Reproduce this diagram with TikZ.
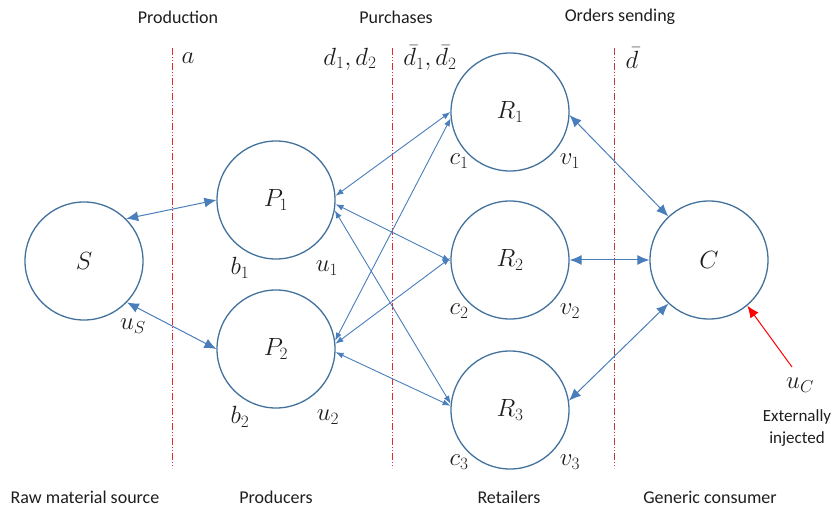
\documentclass[tikz,border=0pt]{standalone}
\usepackage{fontspec}
\setmainfont{Carlito}
\usetikzlibrary{arrows.meta}
\definecolor{circblue}{HTML}{41719C}
\definecolor{arrblue}{HTML}{4A7EBB}
\definecolor{dashred}{HTML}{E8262C}
\definecolor{dashdark}{HTML}{B8403A}
\definecolor{txt}{HTML}{1E1E1E}
\tikzset{
  x=1pt, y=-1pt,
  stage/.style={circle, draw=circblue, line width=1.3pt, minimum size=118pt, inner sep=0pt, font=\fontsize{25}{28}\selectfont, text=txt},
  lab/.style={font=\fontsize{18}{22}\selectfont, text=txt, inner sep=0pt},
  mlab/.style={font=\fontsize{25}{28}\selectfont, text=txt, inner sep=0pt},
  sep/.style={line width=0.9pt, dash pattern=on 7pt off 2pt on 1pt off 2pt on 1pt off 2pt},
  bigarr/.style={arrblue, line width=1pt, {Latex[length=12pt,width=10pt]}-{Latex[length=12pt,width=10pt]}},
  smallarr/.style={arrblue, line width=0.9pt, {Latex[length=8pt,width=6pt]}-{Latex[length=8pt,width=6pt]}},
}
\begin{document}
\begin{tikzpicture}
\useasboundingbox (0,0) rectangle (833,513);
% separators
\draw[sep, dashred] (172,48) coordinate (sa1) -- (172,468) coordinate (sa2);
\draw[sep, dashred] (392,48) coordinate (sb1) -- (392,468) coordinate (sb2);
\draw[sep, dashdark] (614,48) coordinate (sc1) -- (614,468) coordinate (sc2);
% stage circles
\node[stage] (S) at (84,261) {$S$};
\node[stage] (P1) at (276,200) {$P_1$};
\node[stage] (P2) at (276,349) {$P_2$};
\node[stage] (R1) at (510,112) {$R_1$};
\node[stage] (R2) at (510,260) {$R_2$};
\node[stage] (R3) at (510,410) {$R_3$};
\node[stage] (C) at (709,260) {$C$};
% heading labels
\node[lab] (hprod) at (178,17) {Production};
\node[lab] (hpur) at (396,17) {Purchases};
\node[lab] (hord) at (620,17) {Orders sending};
\node[mlab] (la) at (188,58) {$a$};
\node[mlab] (ld) at (350,59) {$d_1, d_2$};
\node[mlab] (ldb) at (430,58) {$\bar{d}_1, \bar{d}_2$};
\node[mlab] (ldbar) at (632,58) {$\bar{d}$};
% bottom labels
\node[lab] (braw) at (85,497) {Raw material source};
\node[lab] (bprod) at (276,497) {Producers};
\node[lab] (bret) at (509,497) {Retailers};
\node[lab] (bcons) at (710,497) {Generic consumer};
% variable labels
\node[mlab] (lb1) at (240,268) {$b_1$};
\node[mlab] (lu1) at (327,268) {$u_1$};
\node[mlab] (lb2) at (240,417) {$b_2$};
\node[mlab] (lu2) at (328,417) {$u_2$};
\node[mlab] (luS) at (133,326) {$u_S$};
\node[mlab] (lc1) at (459,161) {$c_1$};
\node[mlab] (lv1) at (570,161) {$v_1$};
\node[mlab] (lc2) at (459,311) {$c_2$};
\node[mlab] (lv2) at (570,311) {$v_2$};
\node[mlab] (lc3) at (459,462) {$c_3$};
\node[mlab] (lv3) at (570,462) {$v_3$};
\node[mlab] (luC) at (800,385) {$u_C$};
\node[lab, align=center, font=\fontsize{17}{22}\selectfont] (lext) at (797,428) {Externally\\injected};
% source to producers
\draw[bigarr] (S.45) -- (P1.180);
\draw[bigarr] (S.-44) -- (P2.180);
% producers to retailers
\draw[smallarr] (P1.4) -- (R1.180);
\draw[smallarr] (P1.-4) -- (R2.181);
\draw[smallarr] (P1.-10) -- (R3.174);
\draw[smallarr] (P2.8) -- (R1.186);
\draw[smallarr] (P2.5) -- (R2.178);
\draw[smallarr] (P2.-3) -- (R3.176);
% retailers to consumer
\draw[bigarr] (R1.-3) -- (C.133);
\draw[bigarr] (R2.0) -- (C.180);
\draw[bigarr] (R3.9) -- (C.-133);
% external injection
\coordinate (uCsrc) at (792,367);
\draw[red, line width=1pt, -{Latex[length=12pt,width=10pt]}] (uCsrc) -- (C.-50);
\end{tikzpicture}
\end{document}
